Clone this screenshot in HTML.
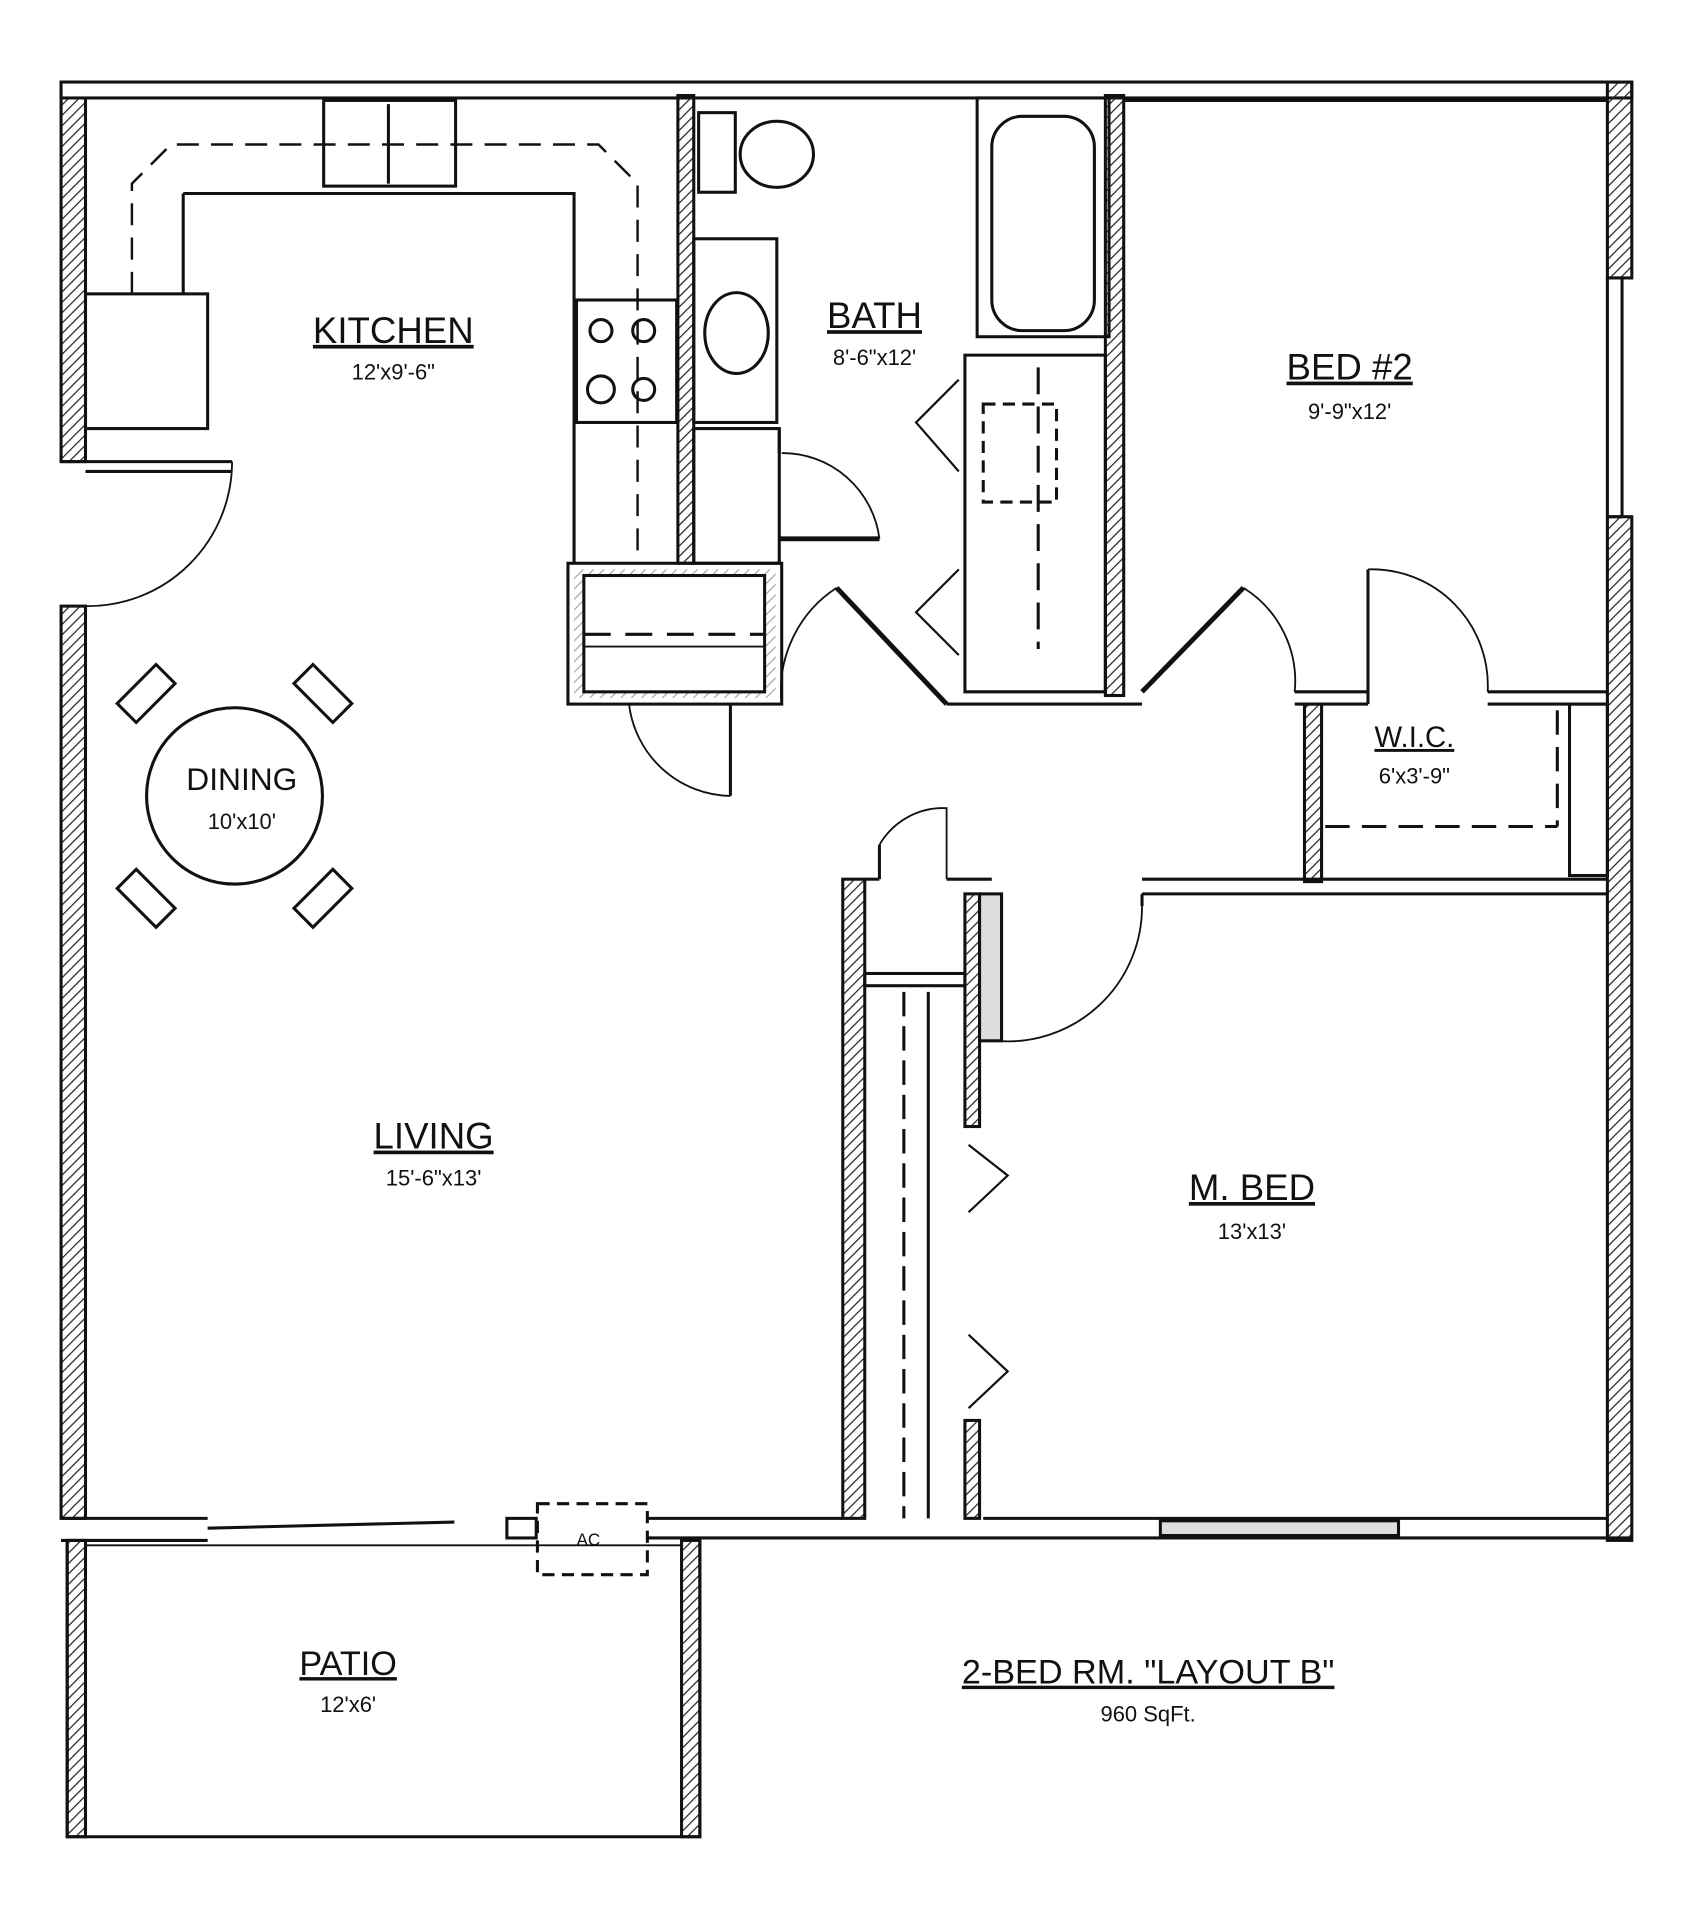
<!DOCTYPE html>
<html><head><style>
html,body{margin:0;padding:0;background:#fff;}
svg{display:block}
text{font-family:"Liberation Sans",sans-serif;fill:#111}
</style></head><body>
<svg width="1688" height="1920" viewBox="0 0 1382 1568" preserveAspectRatio="none" xmlns="http://www.w3.org/2000/svg">
<defs>
<pattern id="h" width="6" height="6" patternUnits="userSpaceOnUse" patternTransform="rotate(45)">
<line x1="0" y1="0" x2="0" y2="6" stroke="#222" stroke-width="2"/></pattern>
</defs>
<g stroke="#111" stroke-width="2.5" fill="none">
<!-- outer walls hatched -->
<rect x="50" y="67" width="20" height="310" fill="url(#h)"/>
<rect x="50" y="495" width="20" height="745" fill="url(#h)"/>
<rect x="50" y="67" width="1286" height="13" fill="#fff"/>
<rect x="1316" y="67" width="20" height="160" fill="url(#h)"/>
<rect x="1316" y="227" width="12" height="195" fill="#fff"/>
<rect x="1316" y="422" width="20" height="836" fill="url(#h)"/>
<!-- bottom wall -->
<line x1="50" y1="1240" x2="170" y2="1240"/><line x1="50" y1="1258" x2="170" y2="1258"/>
<line x1="170" y1="1248" x2="372" y2="1243"/>
<rect x="415" y="1240" width="24" height="16"/>
<line x1="530" y1="1240" x2="690" y2="1240"/>
<line x1="530" y1="1256" x2="1336" y2="1256"/>
<line x1="805" y1="1240" x2="1316" y2="1240"/>
<rect x="950" y="1242" width="195" height="12" fill="#ddd"/>
<rect x="440" y="1228" width="90" height="58" stroke-dasharray="10,6"/>
<text x="472" y="1262" font-size="14" stroke="none">AC</text>
<!-- patio -->
<polyline points="55,1258 55,1500 573,1500 573,1258"/>
<rect x="55" y="1258" width="15" height="242" fill="url(#h)"/>
<rect x="558" y="1258" width="15" height="242" fill="url(#h)"/>
<line x1="70" y1="1262" x2="558" y2="1262" stroke-width="1.5"/>
<!-- entry -->
<line x1="50" y1="377" x2="190" y2="377"/><line x1="70" y1="385" x2="190" y2="385"/>
<path d="M190 377 A118 118 0 0 1 70 495" stroke-width="1.5"/>
<!-- kitchen -->
<rect x="70" y="240" width="100" height="110"/>
<rect x="265" y="82" width="108" height="70"/>
<line x1="318" y1="85" x2="318" y2="150"/>
<path d="M150 158 L470 158 L470 460" />
<line x1="150" y1="158" x2="150" y2="240"/>
<path d="M108 240 L108 150 L140 118 L490 118 L522 150 L522 460" stroke-dasharray="18,10" stroke-width="2"/>
<rect x="472" y="245" width="82" height="100"/>
<circle cx="492" cy="270" r="9"/><circle cx="527" cy="270" r="9"/>
<circle cx="492" cy="318" r="11"/><circle cx="527" cy="318" r="9"/>
<!-- kitchen/bath wall -->
<rect x="555" y="78" width="13" height="382" fill="url(#h)"/>
<!-- bath -->
<rect x="572" y="92" width="30" height="65"/>
<ellipse cx="636" cy="126" rx="30" ry="27"/>
<rect x="568" y="195" width="68" height="150"/>
<ellipse cx="603" cy="272" rx="26" ry="33"/>
<rect x="800" y="80" width="108" height="195"/>
<rect x="812" y="95" width="84" height="175" rx="25"/>
<rect x="905" y="78" width="15" height="490" fill="url(#h)"/>
<path d="M790 290 L905 290 L905 565 L790 565 Z"/>
<rect x="805" y="330" width="60" height="80" stroke-dasharray="10,6"/>
<line x1="850" y1="300" x2="850" y2="530" stroke-dasharray="22,10"/>
<polyline points="785,310 750,345 785,385" stroke-width="1.8"/>
<polyline points="785,465 750,500 785,535" stroke-width="1.8"/>
<line x1="775" y1="575" x2="935" y2="575"/>
<line x1="685" y1="480" x2="775" y2="575" stroke-width="4"/>
<path d="M685 480 A100 100 0 0 0 640 575" stroke-width="1.5"/>
<!-- linen closet -->
<rect x="568" y="350" width="70" height="110"/>
<line x1="638" y1="350" x2="638" y2="370"/><line x1="638" y1="440" x2="720" y2="440" stroke-width="4"/>
<path d="M640 370 A80 80 0 0 1 720 440" stroke-width="1.5"/>
<rect x="465" y="460" width="175" height="115"/>
<rect x="470" y="465" width="165" height="105" fill="url(#h)" stroke="none" opacity="0.4"/>
<rect x="478" y="470" width="148" height="95" fill="#fff"/>
<line x1="478" y1="518" x2="626" y2="518" stroke-dasharray="22,12"/>
<line x1="478" y1="528" x2="626" y2="528" stroke-width="1.5"/>
<line x1="598" y1="575" x2="598" y2="650"/>
<path d="M515 575 A85 85 0 0 0 598 650" stroke-width="1.5"/>
<!-- bed2 -->
<line x1="920" y1="82" x2="1316" y2="82"/>
<line x1="935" y1="565" x2="1018" y2="480" stroke-width="4"/>
<path d="M1018 480 A90 90 0 0 1 1060 565" stroke-width="1.5"/>
<line x1="1060" y1="565" x2="1120" y2="565"/><line x1="1060" y1="575" x2="1120" y2="575"/>
<line x1="1120" y1="465" x2="1120" y2="575"/>
<path d="M1120 465 A95 95 0 0 1 1218 565" stroke-width="1.5"/>
<line x1="1218" y1="565" x2="1316" y2="565"/><line x1="1218" y1="575" x2="1316" y2="575"/>
<!-- wic -->
<rect x="1068" y="575" width="14" height="145" fill="url(#h)"/>
<line x1="1085" y1="675" x2="1275" y2="675" stroke-dasharray="20,10"/>
<line x1="1275" y1="580" x2="1275" y2="675" stroke-dasharray="20,10"/>
<rect x="1285" y="575" width="31" height="140"/>
<line x1="935" y1="718" x2="1316" y2="718"/><line x1="935" y1="730" x2="1316" y2="730"/>
<line x1="935" y1="730" x2="935" y2="740"/>
<path d="M935 740 A110 110 0 0 1 815 850" stroke-width="1.5"/>
<!-- mbed closet -->
<rect x="690" y="718" width="18" height="522" fill="url(#h)"/>
<line x1="708" y1="718" x2="720" y2="718"/><line x1="720" y1="718" x2="720" y2="690"/>
<path d="M720 690 A60 60 0 0 1 775 660 L775 718" stroke-width="1.5"/>
<line x1="775" y1="718" x2="812" y2="718"/>
<rect x="708" y="795" width="82" height="10"/>
<rect x="790" y="730" width="12" height="190" fill="url(#h)"/>
<rect x="802" y="730" width="18" height="120" fill="#ddd"/>
<line x1="740" y1="810" x2="740" y2="1240" stroke-dasharray="20,8"/>
<line x1="760" y1="810" x2="760" y2="1240"/>
<rect x="790" y="1160" width="12" height="80" fill="url(#h)"/>
<polyline points="793,935 825,960 793,990" stroke-width="1.8"/>
<polyline points="793,1090 825,1120 793,1150" stroke-width="1.8"/>
<!-- dining -->
<circle cx="192" cy="650" r="72"/>
<g transform="translate(192,650)">
<rect x="-95" y="-95" width="45" height="22" transform="rotate(-45 -72 -84)"/>
<rect x="50" y="-95" width="45" height="22" transform="rotate(45 72 -84)"/>
<rect x="-95" y="73" width="45" height="22" transform="rotate(45 -72 84)"/>
<rect x="50" y="73" width="45" height="22" transform="rotate(-45 72 84)"/>
</g>
</g>
<g stroke="none" text-anchor="middle">
<text x="322" y="280" font-size="30" text-decoration="underline">KITCHEN</text>
<text x="322" y="310" font-size="18">12'x9'-6"</text>
<text x="716" y="268" font-size="30" text-decoration="underline">BATH</text>
<text x="716" y="298" font-size="18">8'-6"x12'</text>
<text x="1105" y="310" font-size="30" text-decoration="underline">BED #2</text>
<text x="1105" y="342" font-size="18">9'-9"x12'</text>
<text x="1158" y="610" font-size="24" text-decoration="underline">W.I.C.</text>
<text x="1158" y="640" font-size="18">6'x3'-9"</text>
<text x="198" y="645" font-size="26">DINING</text>
<text x="198" y="677" font-size="18">10'x10'</text>
<text x="355" y="938" font-size="30" text-decoration="underline">LIVING</text>
<text x="355" y="968" font-size="18">15'-6"x13'</text>
<text x="1025" y="980" font-size="30" text-decoration="underline">M. BED</text>
<text x="1025" y="1012" font-size="18">13'x13'</text>
<text x="285" y="1368" font-size="28" text-decoration="underline">PATIO</text>
<text x="285" y="1398" font-size="18">12'x6'</text>
<text x="940" y="1375" font-size="28" text-decoration="underline">2-BED RM. "LAYOUT B"</text>
<text x="940" y="1406" font-size="18">960 SqFt.</text>
</g>
</svg>
</body></html>
